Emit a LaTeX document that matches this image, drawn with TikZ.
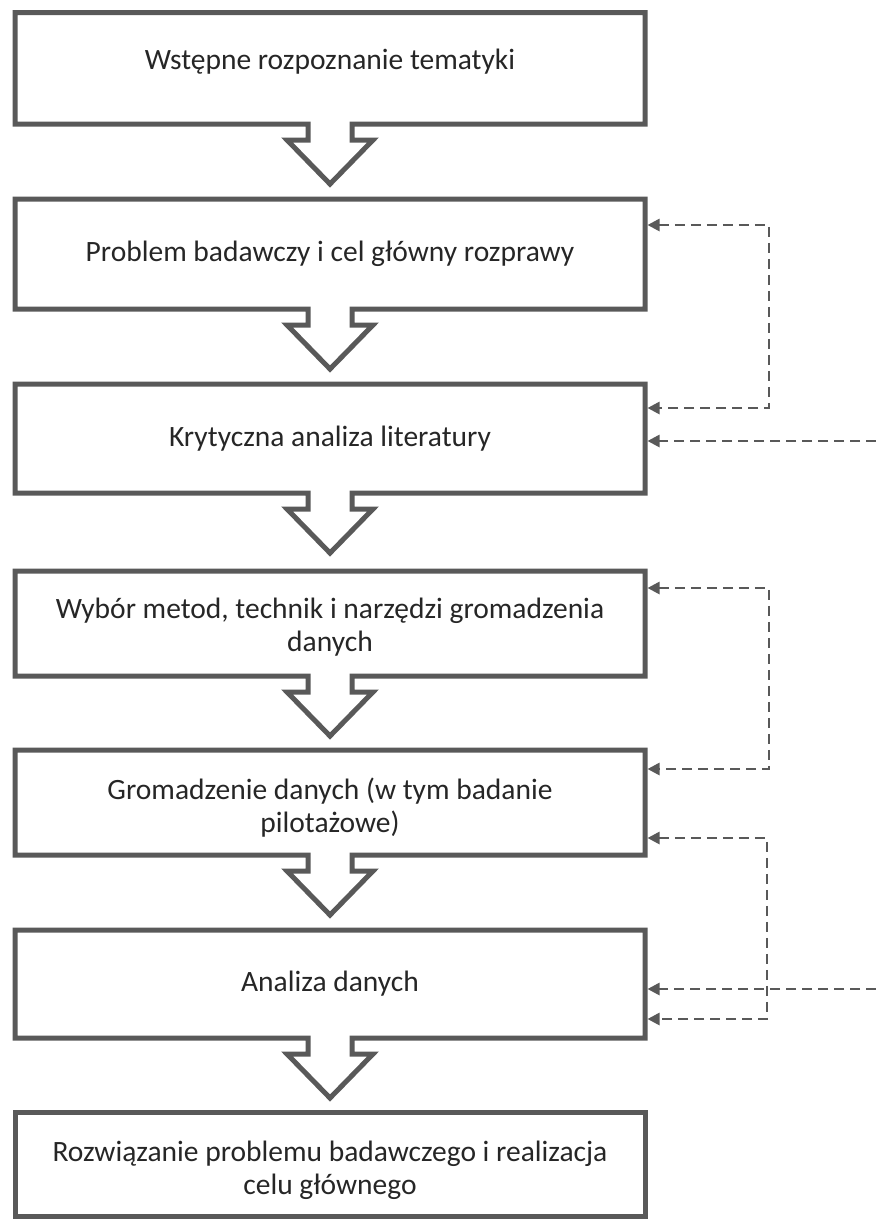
\documentclass[tikz,border=0pt]{standalone}
\usepackage{fontspec}
\setmainfont{Carlito}
\usetikzlibrary{arrows.meta,calc}
\definecolor{edge}{HTML}{595959}
\definecolor{ink}{HTML}{262626}
% shift a line of text vertically without changing its box
\newcommand\liftby[2]{\raisebox{#1}[\height][\depth]{#2}}
\begin{document}
\begin{tikzpicture}[x=1pt,y=-1pt,
  stepbox/.style={draw=none,outer sep=0pt,inner sep=0pt,minimum width=630pt,
    align=center,text=ink,font=\fontsize{29.5pt}{33pt}\selectfont},
  outline/.style={draw=edge,line width=5pt,line join=miter},
  fb/.style={draw=edge,line width=2.6pt,dash pattern=on 10pt off 6pt,
    arrows={Triangle[length=12pt,width=12pt]-Triangle[length=12pt,width=12pt]},
    shorten <=2.5pt,shorten >=2.5pt},
  fbin/.style={draw=edge,line width=2.6pt,dash pattern=on 10pt off 6pt,
    arrows={-Triangle[length=12pt,width=12pt]},shorten >=2.5pt}]
\useasboundingbox (0,0) rectangle (876,1219);

% process steps
\node[stepbox,minimum height=111.5pt] (b1) at (330,68.25) {\liftby{7pt}{Wstępne rozpoznanie tematyki}};
\node[stepbox,minimum height=110pt] (b2) at (330,254) {Problem badawczy i cel główny rozprawy};
\node[stepbox,minimum height=109pt] (b3) at (330,438.5) {Krytyczna analiza literatury};
\node[stepbox,minimum height=105pt] (b4) at (330,623.5) {\liftby{-4pt}{Wybór metod, technik i narzędzi gromadzenia}\\\liftby{-4pt}{danych}};
\node[stepbox,minimum height=105pt] (b5) at (330,802.5) {\liftby{-5pt}{Gromadzenie danych (w tym badanie}\\\liftby{-5pt}{pilotażowe)}};
\node[stepbox,minimum height=108pt] (b6) at (330,984) {Analiza danych};
\node[stepbox,minimum height=104pt] (b7) at (330,1164) {\liftby{-6pt}{Rozwiązanie problemu badawczego i realizacja}\\\liftby{-6pt}{celu głównego}};

% box outlines with the downward arrow notch
\foreach \b in {b1,b2,b3,b4,b5,b6}{
  \draw[outline] (\b.south west) -- (\b.north west) -- (\b.north east) -- (\b.south east)
    -- ($(\b.south)+(22,0)$) -- ++(0,16) -- ++(21,0) -- ++(-43,44) -- ++(-43,-44)
    -- ++(21,0) -- ++(0,-16) -- cycle;
}
\draw[outline] (b7.south west) rectangle (b7.north east);

% feedback loops
\coordinate (e1) at (876,441);
\coordinate (e2) at (876,989);
\draw[fb] ($(b2.north east)+(0,26)$) -- ++(124,0) |- ($(b3.north east)+(0,24)$);
\draw[fbin] (e1) -- (b3.east |- e1);
\draw[fb] ($(b4.north east)+(0,17)$) -- ++(124,0) |- ($(b5.north east)+(0,19)$);
\draw[fb] ($(b5.south east)+(0,-17)$) -- ++(122,0) |- ($(b6.south east)+(0,-19)$);
\draw[fbin] (e2) -- (b6.east |- e2);
\end{tikzpicture}
\end{document}
